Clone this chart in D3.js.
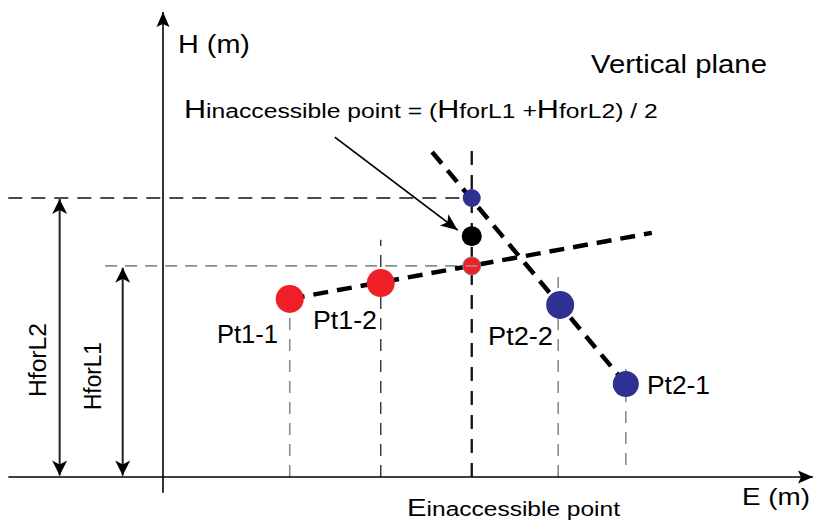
<!DOCTYPE html>
<html><head><meta charset="utf-8">
<script src="https://cdn.jsdelivr.net/npm/d3@7"></script>
<style>html,body{margin:0;padding:0;background:#fff;} svg{display:block;font-family:Arial,"Liberation Sans",sans-serif;}</style>
</head><body><svg id="c" width="818" height="523"></svg>
<script>
// ---------- data (E, H in arbitrary metres) ----------
const line1Names = ["Pt1-1", "Pt1-2"];
const line1E = [19.5, 33.5];
const line1H = [38.3, 41.7];
const line2Names = ["Pt2-1", "Pt2-2"];
const line2E = [71.2, 61.1];
const line2H = [20.0, 37.0];
// dashed fitted lines (start / end)
const lineL1E = [19.5, 75.2];
const lineL1H = [38.3, 52.5];
const lineL2E = [41.4, 71.2];
const lineL2H = [69.9, 20.0];
// inaccessible point
const inaccessibleE = 47.5;
const inaccessibleH = [45.4, 51.8, 60.0]; // H for L1, mean, H for L2
const inaccessibleNames = ["HforL1", "Hinaccessible", "HforL2"];

// ---------- scales ----------
const x = d3.scaleLinear().domain([0, 100]).range([163, 813]);
const y = d3.scaleLinear().domain([0, 100]).range([477, 12]);
const svg = d3.select("#c");
const defs = svg.append("defs");

function marker(id, len, half, notch) {
  defs.append("marker").attr("id", id).attr("markerUnits", "userSpaceOnUse")
    .attr("viewBox", `${-len - 1} ${-half - 1} ${len + 2} ${2 * half + 2}`)
    .attr("refX", 0).attr("refY", 0)
    .attr("markerWidth", len + 2).attr("markerHeight", 2 * half + 2)
    .attr("orient", "auto-start-reverse")
    .append("path").attr("d", `M0,0 L${-len},${-half} L${-len + notch},0 L${-len},${half} Z`)
    .attr("fill", "#000");
}
marker("axisHead", 15, 6.5, 3);
marker("dimHead", 15, 7.5, 4);
marker("annHead", 17, 7, 4);

const pts1 = line1E.map((e, i) => ({ name: line1Names[i], E: e, H: line1H[i] }));
const pts2 = line2E.map((e, i) => ({ name: line2Names[i], E: e, H: line2H[i] }));
const hL1 = inaccessibleH[0], hMean = inaccessibleH[1], hL2 = inaccessibleH[2];

const g = svg.append("g");
function seg(e1, h1, e2, h2) {
  return g.append("line").attr("x1", x(e1)).attr("y1", y(h1)).attr("x2", x(e2)).attr("y2", y(h2)).attr("fill", "none");
}

// ---------- guide lines ----------
const gray = "#8c8c8c";
seg(pts1[0].E, 0, pts1[0].E, pts1[0].H - 3.3).attr("stroke", gray).attr("stroke-width", 1.6).attr("stroke-dasharray", "12,9");
seg(pts1[1].E, 0, pts1[1].E, pts1[1].H + 9.3).attr("stroke", "#333").attr("stroke-width", 1.4).attr("stroke-dasharray", "12,9");
seg(pts2[1].E - 0.3, 0, pts2[1].E - 0.3, pts2[1].H + 6).attr("stroke", gray).attr("stroke-width", 1.6).attr("stroke-dasharray", "12,9");
seg(pts2[0].E, 2.6, pts2[0].E, pts2[0].H + 4.3).attr("stroke", gray).attr("stroke-width", 1.6).attr("stroke-dasharray", "12,9");
seg(-8.9, hL1, inaccessibleE, hL1).attr("stroke", gray).attr("stroke-width", 1.6).attr("stroke-dasharray", "12,8");
seg(-23.8, hL2, inaccessibleE, hL2).attr("stroke", "#111").attr("stroke-width", 1.3).attr("stroke-dasharray", "14,9");
seg(inaccessibleE, 0, inaccessibleE, 70.5).attr("stroke", "#111").attr("stroke-width", 2.3).attr("stroke-dasharray", "14,10");

// ---------- fitted dashed lines ----------
seg(lineL1E[0], lineL1H[0], lineL1E[1], lineL1H[1]).attr("stroke", "#000").attr("stroke-width", 4.5).attr("stroke-dasharray", "15,9");
seg(lineL2E[0], lineL2H[0], lineL2E[1], lineL2H[1]).attr("stroke", "#000").attr("stroke-width", 4.5).attr("stroke-dasharray", "15,9");

// ---------- axes ----------
seg(-23.8, 0, 100, 0).attr("stroke", "#000").attr("stroke-width", 1.6).attr("marker-end", "url(#axisHead)");
seg(0, -3.4, 0, 100).attr("stroke", "#000").attr("stroke-width", 1.6).attr("marker-end", "url(#axisHead)");

// ---------- dimension arrows ----------
seg(-15.9, 0.3, -15.9, hL2 - 0.2).attr("stroke", "#222").attr("stroke-width", 2).attr("marker-start", "url(#dimHead)").attr("marker-end", "url(#dimHead)");
seg(-6.2, 0.3, -6.2, hL1 - 0.4).attr("stroke", "#222").attr("stroke-width", 2).attr("marker-start", "url(#dimHead)").attr("marker-end", "url(#dimHead)");

// ---------- annotation arrow ----------
g.append("line").attr("x1", x(inaccessibleE) - 137).attr("y1", y(hMean) - 99)
  .attr("x2", x(inaccessibleE) - 14).attr("y2", y(hMean) - 6)
  .attr("stroke", "#000").attr("stroke-width", 1.8).attr("marker-end", "url(#annHead)");

// ---------- points ----------
const red = "#ee1f26", blue = "#2e3192";
g.selectAll(".p1").data(pts1).enter().append("circle")
  .attr("cx", d => x(d.E)).attr("cy", d => y(d.H)).attr("r", 14).attr("fill", red);
g.selectAll(".p2").data(pts2).enter().append("circle")
  .attr("cx", d => x(d.E)).attr("cy", d => y(d.H)).attr("r", (d, i) => i === 0 ? 13 : 14).attr("fill", blue);
const inac = inaccessibleH.map((h, i) => ({ name: inaccessibleNames[i], H: h }));
g.selectAll(".pi").data(inac).enter().append("circle")
  .attr("cx", x(inaccessibleE)).attr("cy", d => y(d.H))
  .attr("r", (d, i) => i === 1 ? 10 : 9)
  .attr("fill", (d, i) => [red, "#000", blue][i])
  .attr("stroke", (d, i) => i === 0 ? "#888" : "none").attr("stroke-width", 1);
seg(inaccessibleE - 0.9, hL1, inaccessibleE + 0.9, hL1).attr("stroke", "#999").attr("stroke-width", 1.5);

// ---------- text ----------
function fitText(parts, tx, ty, w, rot) {
  const t = svg.append("text").attr("fill", "#000");
  parts.forEach(p => t.append("tspan").attr("font-size", p[1]).text(p[0]));
  const len = t.node().getComputedTextLength();
  t.attr("transform", `translate(${tx},${ty})${rot ? " rotate(-90)" : ""} scale(${w / len},1)`);
  return t;
}
fitText([["H (m)", 26]], 178, 53, 72);
fitText([["Vertical plane", 25]], 591, 73, 176);
fitText([["H", 26], ["inaccessible point = (", 21], ["H", 26], ["forL1 +", 21], ["H", 26], ["forL2) / 2", 21]], 184, 118, 474);
const labelPos = { "Pt1-1": [217, 343, 61], "Pt1-2": [313, 329, 64], "Pt2-2": [488, 345, 65], "Pt2-1": [647, 394, 63] };
pts1.concat(pts2).forEach(d => {
  const p = labelPos[d.name];
  fitText([[d.name, 25]], p[0], p[1], p[2]);
});
fitText([["E (m)", 24]], 742, 505, 68);
fitText([["E", 24], ["inaccessible point", 20]], 407, 516, 213);
fitText([["HforL2", 24]], 46, 397, 74, true);
fitText([["HforL1", 24]], 101, 410, 68, true);
</script></body></html>
